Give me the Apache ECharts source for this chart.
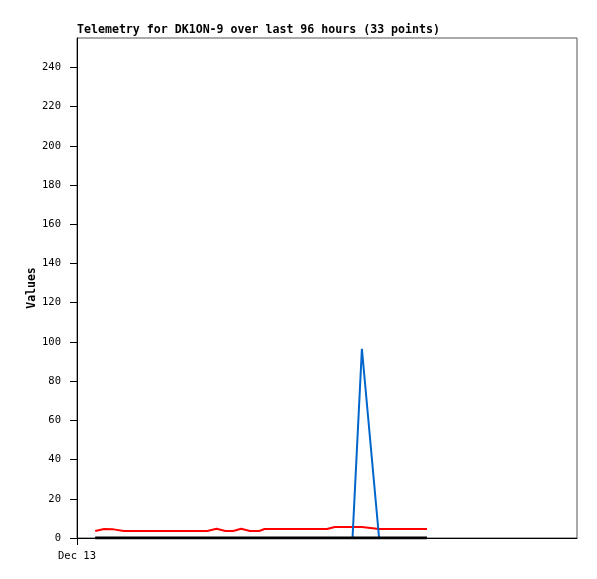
<!DOCTYPE html>
<html>
<head>
<meta charset="utf-8">
<script src="https://cdn.jsdelivr.net/npm/echarts@6/dist/echarts.min.js"></script>
<style>html,body{margin:0;padding:0;background:#fff}#c{width:597px;height:579px}</style>
</head>
<body>
<div id="c"></div>
<script>
// hours since Dec 13 00:00
const hours = [3.5,5.2,7.0,9.0,11.0,13.0,15.0,17.0,19.0,21.0,23.0,25.0,26.8,28.5,30.0,31.5,33.2,35.0,36.0,38.0,40.0,42.0,44.0,46.0,48.0,49.5,52.9,54.7,58.0,60.0,62.0,64.0,67.2];
const redValues = [3.6,4.6,4.4,3.6,3.6,3.6,3.6,3.6,3.6,3.6,3.6,3.6,4.7,3.6,3.6,4.7,3.6,3.6,4.6,4.6,4.6,4.6,4.6,4.6,4.6,5.6,5.6,5.6,4.6,4.6,4.6,4.6,4.6];
const blueValues = [0,0,0,0,0,0,0,0,0,0,0,0,0,0,0,0,0,0,0,0,0,0,0,0,0,0,0,96.5,0,0,0,0,0];
const blackValues = [0,0,0,0,0,0,0,0,0,0,0,0,0,0,0,0,0,0,0,0,0,0,0,0,0,0,0,0,0,0,0,0,0];
const yTicks = [0,20,40,60,80,100,120,140,160,180,200,220,240];
const xTicks = [0];
const xTickLabels = ['Dec 13'];
const titleText = 'Telemetry for DK1ON-9 over last 96 hours (33 points)';

const pair = arr => hours.map((h,i)=>[h, arr[i]]);
const mono = 'DejaVu Sans Mono';
const chart = echarts.init(document.getElementById('c'));
chart.setOption({
  animation: false,
  backgroundColor: '#fff',
  title: {
    text: titleText, left: 72, top: 19,
    textStyle: {fontFamily: mono, fontSize: 11.6, fontWeight: 'bold', color: '#000'}
  },
  grid: {left: 77, right: 20, top: 38, bottom: 41, show: true, borderColor: '#555', borderWidth: 1},
  xAxis: {
    type: 'value', min: 0, max: 96,
    axisLine: {show: true, lineStyle: {color: '#000', width: 1}},
    axisTick: {show: true, length: 7, customValues: xTicks, lineStyle: {color: '#000'}},
    axisLabel: {customValues: xTicks, margin: 13, fontFamily: mono, fontSize: 10.5, color: '#000',
      formatter: v => xTickLabels[xTicks.indexOf(v)] || ''},
    splitLine: {show: false}
  },
  yAxis: {
    type: 'value', min: 0, max: 255,
    name: 'Values', nameLocation: 'middle', nameGap: 39, nameMoveOverlap: false,
    nameTextStyle: {fontFamily: mono, fontSize: 11.5, fontWeight: 'bold', color: '#000'},
    axisLine: {show: true, lineStyle: {color: '#000', width: 1}},
    axisTick: {show: true, length: 7, customValues: yTicks, lineStyle: {color: '#000'}},
    axisLabel: {customValues: yTicks, margin: 16, fontFamily: mono, fontSize: 10.5, color: '#000'},
    splitLine: {show: false}
  },
  series: [
    {type: 'line', data: pair(redValues), showSymbol: false, lineStyle: {color: '#ff0000', width: 2}, itemStyle: {color: '#ff0000'}, z: 2},
    {type: 'line', data: pair(blueValues), showSymbol: false, lineStyle: {color: '#0066cc', width: 2}, itemStyle: {color: '#0066cc'}, z: 3},
    {type: 'line', data: pair(blackValues), showSymbol: false, lineStyle: {color: '#000000', width: 3}, itemStyle: {color: '#000'}, z: 4}
  ]
});
</script>
</body>
</html>
